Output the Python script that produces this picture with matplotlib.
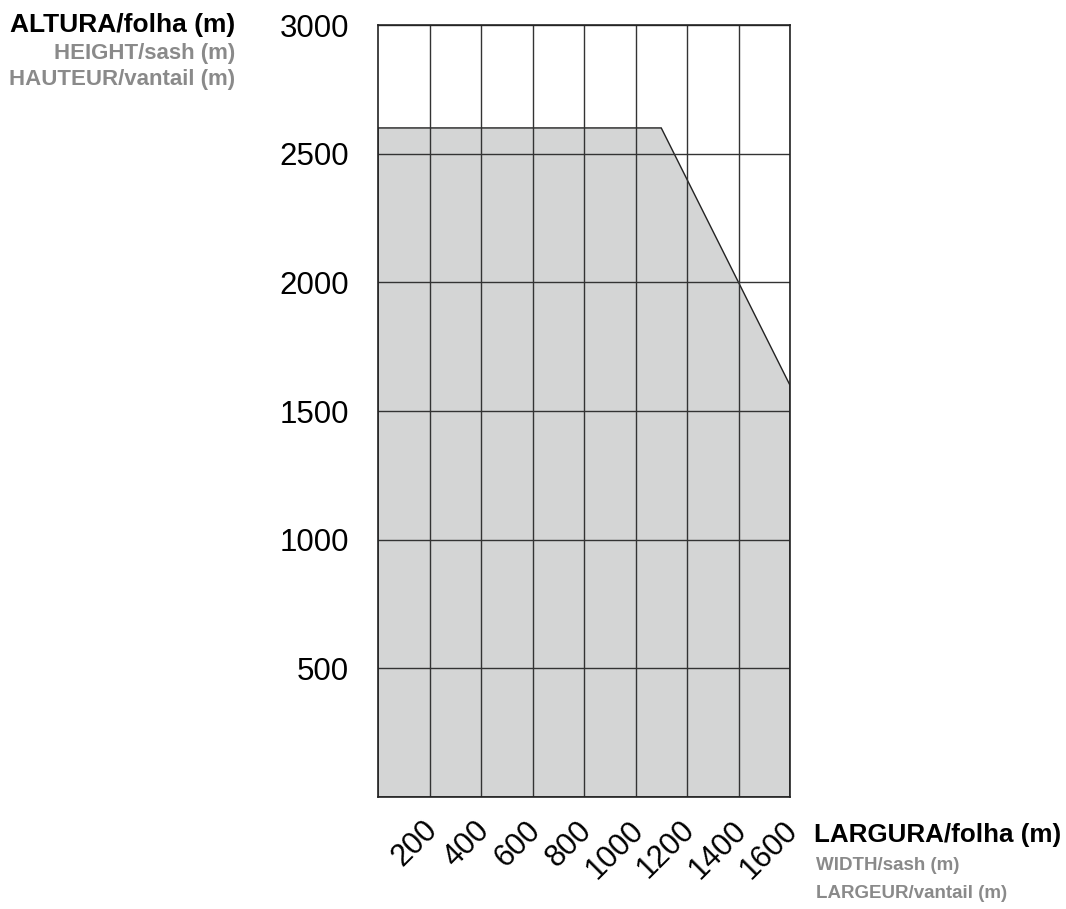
import matplotlib.pyplot as plt
import matplotlib.transforms as mtransforms
import numpy as np

plt.rcParams['font.family'] = ['Liberation Sans', 'DejaVu Sans']

# limites (largura, altura) da folha
limit_x = [0, 0, 1100, 1600, 1600]
limit_y = [0, 2600, 2600, 1600, 0]

x_ticks = [200, 400, 600, 800, 1000, 1200, 1400, 1600]
y_ticks = [500, 1000, 1500, 2000, 2500, 3000]

fig = plt.figure(figsize=(10.66, 9.09), dpi=100)
ax = fig.add_axes([378 / 1066, 1 - 797 / 909, 412 / 1066, 772 / 909])

ax.fill(limit_x, limit_y, facecolor='#d4d5d5', edgecolor='#222222', linewidth=1.0, zorder=1)

for xv in x_ticks:
    ax.axvline(xv, color='#333333', linewidth=1.0, zorder=2)
for yv in y_ticks:
    ax.axhline(yv, color='#333333', linewidth=1.0, zorder=2)

ax.set_xlim(0, 1600)
ax.set_ylim(0, 3000)
ax.set_xticks(x_ticks)
ax.set_yticks(y_ticks)
ax.set_xticklabels([str(v) for v in x_ticks], rotation=45, ha='right', rotation_mode='anchor', fontsize=22)
ax.set_yticklabels([str(v) for v in y_ticks], fontsize=22.5)
ax.tick_params(axis='both', length=0)
ax.tick_params(axis='y', pad=21)
ax.tick_params(axis='x', pad=13)
shift = mtransforms.ScaledTranslation(-7 / 100, 0, fig.dpi_scale_trans)
for lbl in ax.get_xticklabels():
    lbl.set_transform(lbl.get_transform() + shift)
for s in ax.spines.values():
    s.set_color('#222222')
    s.set_linewidth(1.2)

# rótulos dos eixos
fig.text(235 / 1066, 1 - 25 / 909, 'ALTURA/folha (m)', ha='right', va='center', fontsize=19, fontweight='bold', color='black')
fig.text(235 / 1066, 1 - 53 / 909, 'HEIGHT/sash (m)', ha='right', va='center', fontsize=16, fontweight='bold', color='#8a8a8a')
fig.text(235 / 1066, 1 - 80 / 909, 'HAUTEUR/vantail (m)', ha='right', va='center', fontsize=16, fontweight='bold', color='#8a8a8a')

fig.text(814 / 1066, 1 - 835 / 909, 'LARGURA/folha (m)', ha='left', va='center', fontsize=18.7, fontweight='bold', color='black')
fig.text(816 / 1066, 1 - 866 / 909, 'WIDTH/sash (m)', ha='left', va='center', fontsize=13.5, fontweight='bold', color='#8a8a8a')
fig.text(816 / 1066, 1 - 894 / 909, 'LARGEUR/vantail (m)', ha='left', va='center', fontsize=13.5, fontweight='bold', color='#8a8a8a')

fig.savefig('out.png', dpi=100)
